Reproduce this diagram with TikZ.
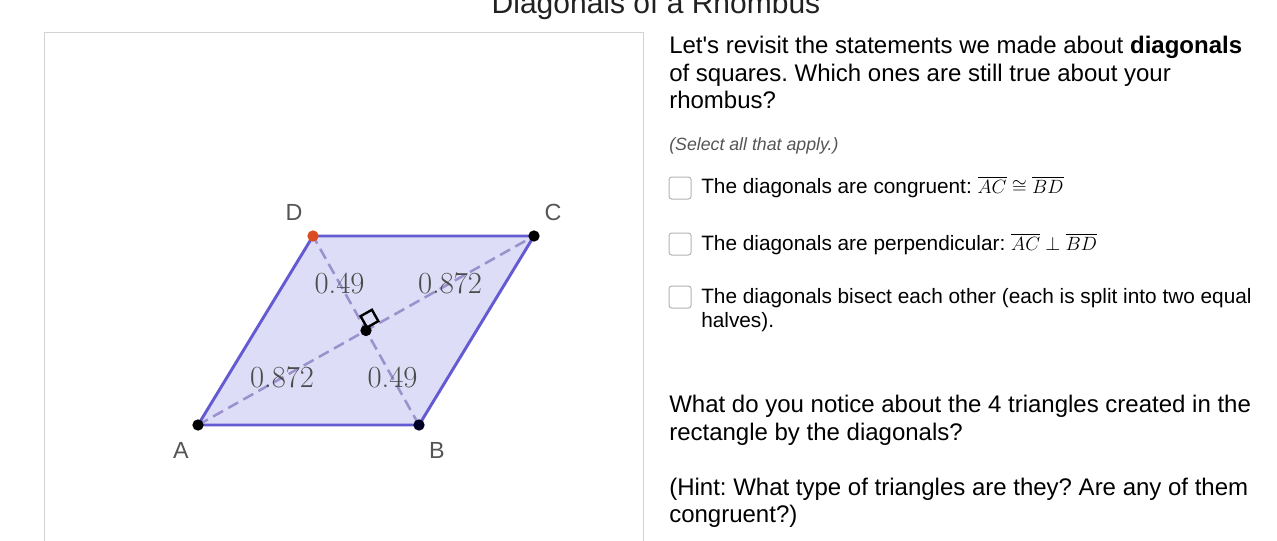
\documentclass[tikz,border=0pt]{standalone}
\usepackage{fontspec}
\setsansfont{Liberation Sans}
\usepackage{amsmath,amssymb}
\usetikzlibrary{calc}
\frenchspacing

\definecolor{rhedge}{RGB}{100,90,210}
\definecolor{rhfill}{RGB}{221,221,247}
\definecolor{diagc}{RGB}{155,145,205}
\definecolor{ptred}{RGB}{219,76,34}
\definecolor{lblgray}{RGB}{85,85,85}
\definecolor{framegray}{RGB}{210,210,210}

\begin{document}
\begin{tikzpicture}[x=0.75pt, y=-0.75pt,
  dot/.style={circle, fill=black, inner sep=0pt, minimum size=8.5pt},
  vlabel/.style={text=lblgray, font=\sffamily\fontsize{17.5}{20}\selectfont},
  dist/.style={text=black!70, font=\rmfamily\fontsize{23}{26}\selectfont},
  diagline/.style={diagc, line width=1.9pt, dash pattern=on 8.5pt off 4.5pt},
  body/.style={anchor=base west, inner sep=0pt, font=\sffamily\fontsize{18}{21}\selectfont},
  item/.style={anchor=base west, inner sep=0pt, font=\sffamily\fontsize{15.6}{18}\selectfont},
  chkbox/.style={draw=black!30, rounded corners=2pt, line width=0.75pt}]

\useasboundingbox (0,0) rectangle (1277,540);

% title and frame
\node[anchor=base, text=black!87, font=\sffamily\fontsize{22.5}{26}\selectfont] (title) at (656,13) {Diagonals of a Rhombus};
\draw[framegray, line width=0.75pt] (44,545) -- (44,32) -- (643,32) -- (643,545);

% rhombus
\coordinate (A) at (198,425);
\coordinate (B) at (419,425);
\coordinate (C) at (534,236);
\coordinate (D) at (313,236);
\coordinate (O) at ($(A)!0.5!(C)$);

\fill[rhfill] (A) -- (B) -- (C) -- (D) -- cycle;
\draw[diagline] (A) -- (C);
\draw[diagline] (B) -- (D);
\draw[rhedge, line width=2.2pt, line join=round] (A) -- (B) -- (C) -- (D) -- cycle;

% right angle mark
\draw[black, line width=1.8pt] ($(O)+(1,-3)$) -- ++(11.3,-6.4) -- ++(-6.4,-11.3) -- ++(-11.3,6.4) -- cycle;

\path (O) -- (D) node[dist, midway] (lOD) {0.49};
\path (O) -- (C) node[dist, midway] (lOC) {0.872};
\path (A) -- (O) node[dist, midway] (lAO) {0.872};
\path (O) -- (B) node[dist, midway] (lOB) {0.49};

\node[dot] (dA) at (A) {};
\node[dot, fill=black!85!blue] (dB) at (B) {};
\node[dot] (dC) at (C) {};
\node[dot, fill=ptred] (dD) at (D) {};
\node[dot] (dO) at (O) {};

\node[vlabel] (nA) at ($(A)+(-17,25)$) {A};
\node[vlabel] (nB) at ($(B)+(18,25)$) {B};
\node[vlabel] (nC) at ($(C)+(19,-24)$) {C};
\node[vlabel] (nD) at ($(D)+(-19,-24)$) {D};

% -------- right column -----------
\node[body] (t1) at (669,53) {Let\textquotesingle s revisit the statements we made about \textbf{diagonals}};
\node[body] (t2) at (669,81) {of squares. Which ones are still true about your};
\node[body] (t3) at (669,108) {rhombus?};
\node[anchor=base west, inner sep=0pt, text=lblgray, font=\sffamily\itshape\fontsize{13.3}{16}\selectfont] (sel) at (669,150) {(Select all that apply.)};

\draw[chkbox] (669,177) rectangle (691,199);
\draw[chkbox] (669,233) rectangle (691,255);
\draw[chkbox] (669,286) rectangle (691,308);
\node[item] (c1) at (701,193) {The diagonals are congruent: $\overline{AC}\cong\overline{BD}$};
\node[item] (c2) at (701,250) {The diagonals are perpendicular: $\overline{AC}\perp\overline{BD}$};
\node[item] (c3) at (701,303) {The diagonals bisect each other (each is split into two equal};
\node[item] (c4) at (701,327) {halves).};

\node[body] (q1) at (669,412) {What do you notice about the 4 triangles created in the};
\node[body] (q2) at (669,440) {rectangle by the diagonals?};
\node[body] (q3) at (669,495) {(Hint: What type of triangles are they? Are any of them};
\node[body] (q4) at (669,522) {congruent?)};
\end{tikzpicture}
\end{document}
